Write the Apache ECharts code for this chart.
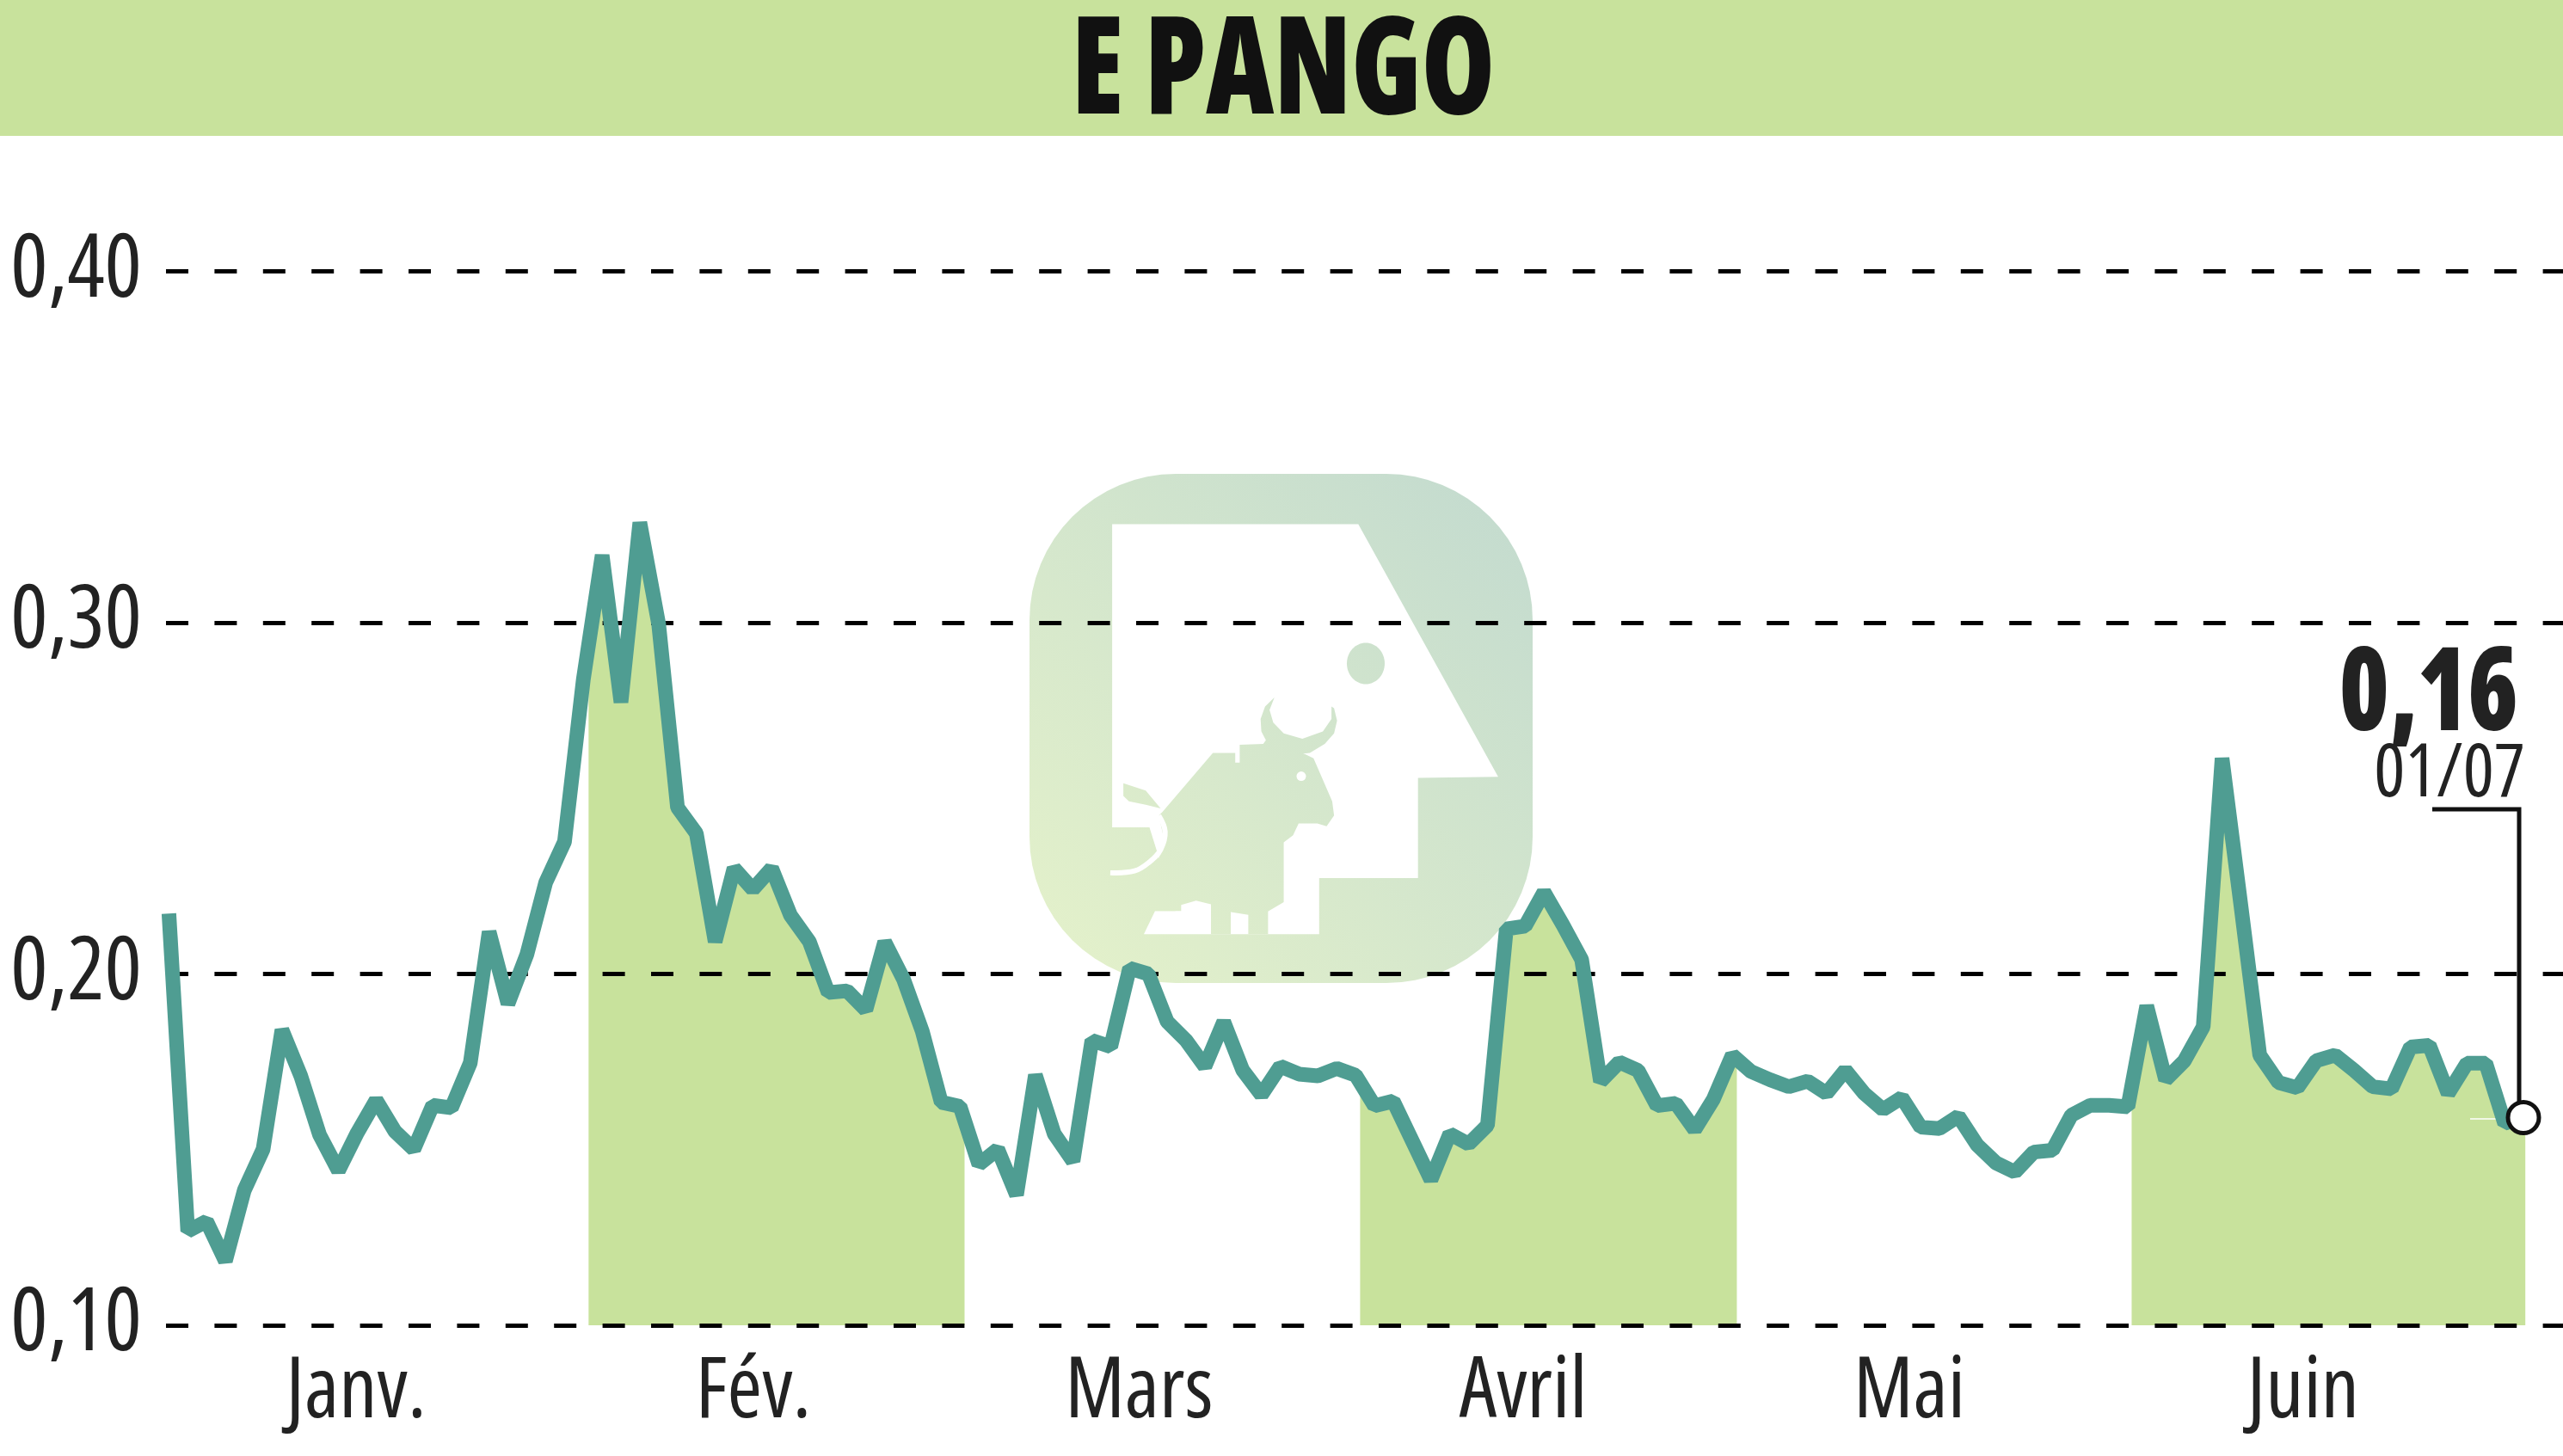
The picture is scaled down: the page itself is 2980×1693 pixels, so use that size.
<!DOCTYPE html>
<html><head><meta charset="utf-8">
<style>html,body{margin:0;padding:0;background:#fff}#c{width:2980px;height:1693px}</style>
<script src="https://cdn.jsdelivr.net/npm/echarts@6/dist/echarts.min.js"></script>
</head><body><div id="c"></div>
<script>
const titleText = 'E PANGO';
const months = ['Janv.','Fév.','Mars','Avril','Mai','Juin'];
const monthPositions = [9.94,31.03,51.5,71.9,92.4,113.3];
const prices = [
0.2172,0.1268,0.1296,0.1183,0.1384,0.1501,0.1841,0.1710,0.1542,0.1440,
0.1548,0.1641,0.1552,0.1501,0.1626,0.1619,0.1747,0.2120,0.1915,0.2055,
0.2260,0.2376,0.2838,0.3192,0.2773,0.3285,0.2996,0.2474,0.2400,0.2092,
0.2301,0.2241,0.2301,0.2167,0.2092,0.1947,0.1952,
0.1898,0.2091,0.1985,0.1836,0.1635,0.1623,0.1458,0.1501,0.1371,0.1712,
0.1545,0.1467,0.1811,0.1793,0.2016,0.2000,0.1864,0.1811,0.1737,0.1864,
0.1727,0.1656,0.1737,0.1715,0.1710,0.1731,0.1712,0.1625,0.1638,0.1526,
0.1414,0.1545,0.1516,0.1569,0.2128,0.2136,0.2233,0.2140,0.2041,0.1694,
0.1749,0.1725,0.1625,0.1632,0.1557,0.1644,
0.1769,0.1722,0.1699,0.1679,0.1695,0.1660,0.1726,0.1660,0.1614,0.1648,
0.1564,0.1560,0.1595,0.1513,0.1462,0.1436,0.1493,0.1498,0.1598,0.1626,
0.1626,0.1622,0.1909,0.1699,0.1753,0.1850,0.2614,0.2195,0.1769,0.1691,
0.1676,0.1753,0.1769,0.1726,0.1679,0.1673,0.1792,0.1797,0.1660,0.1746,
0.1746,0.1575,0.1591];
const shadedBands = [[22.28,42.24],[63.24,83.24],[104.2,125.1]];
const lastValueText = '0,16';
const lastDateText = '01/07';

const band = '#c8e29c', lineCol = '#4f9d92', ink = '#222222';

function valueAt(x){
  if (x >= prices.length-1) return prices[prices.length-1];
  const i = Math.floor(x), f = x-i;
  return prices[i]*(1-f)+prices[i+1]*f;
}
function bandPoints(b){
  const pts = [[b[0],valueAt(b[0])]];
  prices.forEach((v,i)=>{ if(i>b[0]&&i<b[1]) pts.push([i,v]); });
  pts.push([b[1],valueAt(b[1])]);
  return pts;
}

const Z = (p)=>[1150+p[0]/2.306, 520+p[1]/2.405];
const logoHouse = [[330,215],[990,215],[1365,922],[1150,925],[1150,1205],[885,1205],[885,1362],[415,1362],[445,1297],[500,1297],[430,1063],[330,1063]];
const logoBull = [[465,1020],[600,855],[660,855],[660,882],[672,882],[672,832],[735,830],[745,815],[850,860],[870,870],[920,990],[925,1030],[905,1060],[880,1052],[830,1052],[815,1085],[790,1105],[790,1272],[748,1298],[748,1362],[695,1362],[695,1308],[648,1300],[648,1362],[595,1362],[595,1278],[555,1268],[515,1280],[515,1297],[445,1297],[440,1200],[470,1100],[455,1030]];
const logoHorn = [[765,700],[740,725],[728,760],[730,795],[745,825],[775,848],[815,860],[860,855],[900,830],[925,800],[933,765],[925,730],[918,725],[918,760],[895,795],[840,815],[790,800],[762,770],[752,735]];
const logoTuft = [[360,940],[420,960],[460,1010],[420,1000],[375,990],[360,975]];
const logoTail = [[455,1030],[472,1075],[460,1125],[430,1160],[390,1185],[325,1190]];
const logoFill = new echarts.graphic.LinearGradient(1197,1143,1782,551,[{offset:0,color:'#e5f2ca'},{offset:1,color:'#c2dacf'}],true);

const chart = echarts.init(document.getElementById('c'),null,{renderer:'canvas'});
chart.setOption({
  animation:false,
  backgroundColor:'#ffffff',
  grid:{left:193,right:0,top:315.5,height:1225.5,containLabel:false,outerBoundsMode:'none'},
  xAxis:{type:'value',min:-0.155,max:127.1,
    axisLine:{show:false},axisTick:{show:false},splitLine:{show:false},
    axisLabel:{show:true,customValues:monthPositions,margin:30,
      formatter:v=>months[monthPositions.indexOf(v)],
      color:ink,fontFamily:'"Open Sans"',fontStyle:'condensed',fontSize:98,hideOverlap:false,align:'center',verticalAlign:'top'}},
  yAxis:{type:'value',min:0.1,max:0.4,interval:0.1,
    axisLine:{show:false},axisTick:{show:false},
    splitLine:{show:true,lineStyle:{color:'#000',width:5,type:[26,30.4]}},
    axisLabel:{margin:28,color:ink,fontFamily:'"Open Sans"',fontStyle:'condensed',fontSize:102,
      formatter:v=>v.toFixed(2).replace('.',',')}},
  series:[
    ...shadedBands.map(b=>({type:'line',data:bandPoints(b),showSymbol:false,silent:true,z:-1,
      lineStyle:{width:0},areaStyle:{color:band,opacity:1,origin:'start'},clip:false})),
    {type:'line',data:prices.map((v,i)=>[i,v]),showSymbol:false,z:5,clip:false,
      lineStyle:{color:lineCol,width:17,join:'bevel',cap:'butt'}},
    {type:'scatter',data:[[prices.length-1,prices[prices.length-1]]],symbol:'circle',symbolSize:36,z:7,
      itemStyle:{color:'#fff',borderColor:'#111',borderWidth:5,opacity:1}}
  ],
  graphic:{elements:[
    {type:'rect',z:-10,shape:{x:0,y:0,width:2980,height:158},style:{fill:band}},
    {type:'text',z:10,x:1492,y:87,scaleX:0.87,
      style:{text:titleText,fill:'#111',font:'condensed 800 158px "Open Sans"',textAlign:'center',textVerticalAlign:'middle'}},
    {type:'rect',z:-9,shape:{x:1197,y:551,width:585,height:592,r:170},style:{fill:logoFill}},
    {type:'polygon',z:-8,shape:{points:logoHouse.map(Z)},style:{fill:'#fff'}},
    {type:'polygon',z:-7,shape:{points:logoBull.map(Z)},style:{fill:logoFill}},
    {type:'polygon',z:-7,shape:{points:logoHorn.map(Z)},style:{fill:logoFill}},
    {type:'polygon',z:-7,shape:{points:logoTuft.map(Z)},style:{fill:logoFill}},
    {type:'polyline',z:-7,shape:{points:logoTail.map(Z),smooth:0.4},style:{stroke:'#fff',lineWidth:6,fill:'none'}},
    {type:'ellipse',z:-7,shape:{cx:Z([1010,605])[0],cy:Z([1010,605])[1],rx:22,ry:24},style:{fill:logoFill}},
    {type:'circle',z:-6,shape:{cx:Z([837,920])[0],cy:Z([837,920])[1],r:5.5},style:{fill:'#fff'}},
    {type:'text',z:10,x:2928,y:811,scaleX:0.885,style:{text:lastValueText,fill:ink,font:'condensed 800 134px "Open Sans"',textAlign:'right',textVerticalAlign:'middle'}},
    {type:'text',z:10,x:2936,y:902,style:{text:lastDateText,fill:ink,font:'condensed 400 85px "Open Sans"',textAlign:'right',textVerticalAlign:'middle'}},
    {type:'polyline',z:6,shape:{points:[[2828,941],[2929,941],[2929,1282]]},style:{stroke:'#111',lineWidth:5,fill:'none'}},
    {type:'line',z:1,shape:{x1:2872,y1:1301,x2:2919,y2:1301},style:{stroke:'#fff',lineWidth:1.5}}
  ]}
});
</script></body></html>
